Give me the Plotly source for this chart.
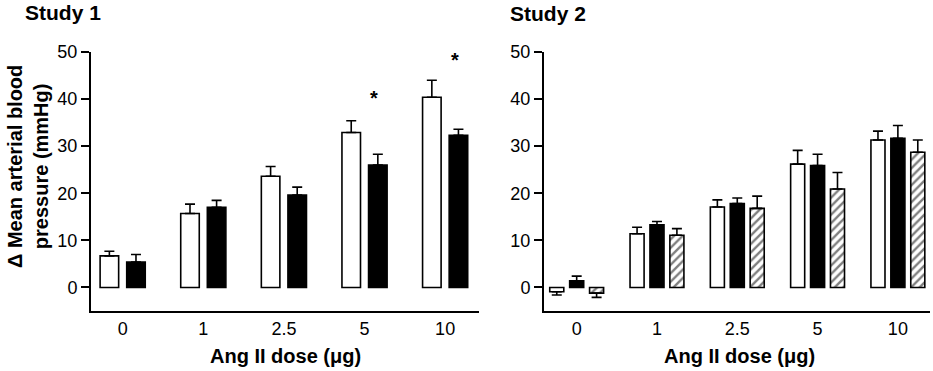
import plotly.graph_objects as go

doses = ["0", "1", "2.5", "5", "10"]

# Study 1
s1_white = [6.7, 15.7, 23.6, 32.9, 40.4]
s1_white_err = [1.0, 2.0, 2.1, 2.5, 3.6]
s1_black = [5.4, 17.0, 19.6, 26.0, 32.3]
s1_black_err = [1.6, 1.5, 1.7, 2.3, 1.3]
s1_star_doses = ["5", "10"]
s1_star_y = [40.3, 48.2]

# Study 2
s2_white = [-0.9, 11.4, 17.1, 26.2, 31.3]
s2_white_err = [0.7, 1.4, 1.5, 2.9, 1.9]
s2_black = [1.4, 13.3, 17.8, 25.9, 31.7]
s2_black_err = [1.0, 0.7, 1.2, 2.4, 2.7]
s2_hatch = [-1.2, 11.1, 16.8, 20.9, 28.7]
s2_hatch_err = [0.9, 1.4, 2.6, 3.5, 2.6]

FONT = "Liberation Sans, Arial, sans-serif"


def err(vals, errs):
    up = [e if v >= 0 else 0 for v, e in zip(vals, errs)]
    dn = [0 if v >= 0 else e for v, e in zip(vals, errs)]
    return dict(type="data", symmetric=False, array=up, arrayminus=dn,
                color="black", thickness=1.6, width=5)


fig = go.Figure()

# Left panel
w1 = 0.23
fig.add_trace(go.Bar(x=doses, y=s1_white, width=w1, offset=-0.165 - w1 / 2,
                     marker=dict(color="white", line=dict(color="black", width=1.6)),
                     error_y=err(s1_white, s1_white_err), xaxis="x", yaxis="y",
                     showlegend=False))
fig.add_trace(go.Bar(x=doses, y=s1_black, width=w1, offset=0.165 - w1 / 2,
                     marker=dict(color="black", line=dict(color="black", width=1.6)),
                     error_y=err(s1_black, s1_black_err), xaxis="x", yaxis="y",
                     showlegend=False))

# Right panel
w2 = 0.175
for vals, errs, off, mk in [
    (s2_white, s2_white_err, -0.248,
     dict(color="white", line=dict(color="black", width=1.6))),
    (s2_black, s2_black_err, 0.0,
     dict(color="black", line=dict(color="black", width=1.6))),
    (s2_hatch, s2_hatch_err, 0.248,
     dict(color="white", line=dict(color="black", width=1.6),
          pattern=dict(shape="/", fgcolor="black", bgcolor="white",
                       size=6, solidity=0.4))),
]:
    fig.add_trace(go.Bar(x=doses, y=vals, width=w2, offset=off - w2 / 2,
                         marker=mk, error_y=err(vals, errs),
                         xaxis="x2", yaxis="y2", showlegend=False))

ydom = [1 - 311 / 371, 1 - 52 / 371]
yax = dict(range=[-5, 50], tickvals=[0, 10, 20, 30, 40, 50], showgrid=False,
           zeroline=False, showline=True, linecolor="black", linewidth=2,
           ticks="outside", ticklen=8, tickwidth=2, tickcolor="black",
           tickfont=dict(family=FONT, size=18, color="black"), domain=ydom)
xax = dict(type="category", categoryorder="array", categoryarray=doses,
           showgrid=False, zeroline=False, showline=True, linecolor="black",
           linewidth=2, ticks="", tickfont=dict(family=FONT, size=18, color="black"))

fig.update_layout(
    width=933, height=371,
    margin=dict(l=0, r=0, t=0, b=0, autoexpand=False),
    paper_bgcolor="white", plot_bgcolor="white",
    xaxis=dict(xax, domain=[91 / 933, 479 / 933], range=[-0.393, 4.42], anchor="y"),
    yaxis=dict(yax, anchor="x"),
    xaxis2=dict(xax, domain=[544 / 933, 930 / 933], range=[-0.407, 4.40], anchor="y2"),
    yaxis2=dict(yax, anchor="x2"),
)

ann = []
for d, yv in zip(s1_star_doses, s1_star_y):
    ann.append(dict(x=doses.index(d) + 0.12, y=yv, xref="x", yref="y", text="<b>*</b>",
                    showarrow=False, font=dict(family=FONT, size=20, color="black")))
ann += [
    dict(x=23 / 933, y=1 - 12 / 371, xref="paper", yref="paper", xanchor="left",
         yanchor="middle", text="<b>Study 1</b>", showarrow=False,
         font=dict(family=FONT, size=21, color="black")),
    dict(x=508 / 933, y=1 - 14 / 371, xref="paper", yref="paper", xanchor="left",
         yanchor="middle", text="<b>Study 2</b>", showarrow=False,
         font=dict(family=FONT, size=21, color="black")),
    dict(x=285 / 933, y=1 - 356 / 371, xref="paper", yref="paper", xanchor="center",
         yanchor="middle", text="<b>Ang II dose (μg)</b>", showarrow=False,
         font=dict(family=FONT, size=20, color="black")),
    dict(x=739 / 933, y=1 - 356 / 371, xref="paper", yref="paper", xanchor="center",
         yanchor="middle", text="<b>Ang II dose (μg)</b>", showarrow=False,
         font=dict(family=FONT, size=20, color="black")),
    dict(x=28 / 933, y=1 - 167 / 371, xref="paper", yref="paper", xanchor="center",
         yanchor="middle", textangle=-90,
         text="<b>Δ Mean arterial blood<br>pressure (mmHg)</b>", showarrow=False,
         font=dict(family=FONT, size=20, color="black")),
]
fig.update_layout(annotations=ann)

fig.write_html("out.html", config={"displayModeBar": False},
               post_script="document.body.style.margin='0';document.body.style.padding='0';")
